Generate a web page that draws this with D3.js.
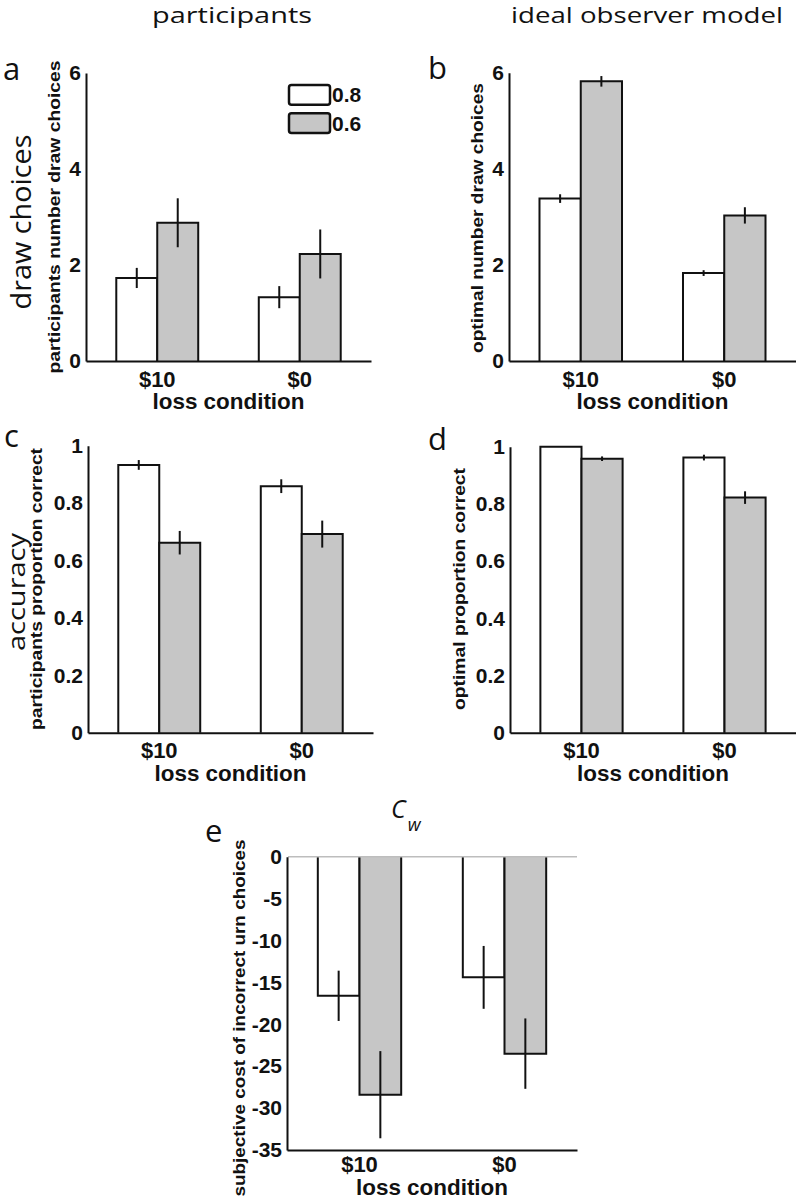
<!DOCTYPE html>
<html><head><meta charset="utf-8">
<script src="https://cdn.jsdelivr.net/npm/d3@7"></script>
<style>body{margin:0;background:#fff} svg{display:block}</style>
</head><body>
<script>
// ---------------- data ----------------
const categories = ["$10", "$0"];
const series = ["0.8", "0.6"];
const drawTicks = [0, 2, 4, 6];
const accTicks = [0, 0.2, 0.4, 0.6, 0.8, 1];
const cwTicks = [0, -5, -10, -15, -20, -25, -30, -35];

const partDraw08 = [1.73, 1.33];
const partDraw06 = [2.88, 2.23];
const partDrawErr08 = [0.21, 0.23];
const partDrawErr06 = [0.51, 0.51];

const modelDraw08 = [3.38, 1.83];
const modelDraw06 = [5.82, 3.03];
const modelDrawErr08 = [0.09, 0.06];
const modelDrawErr06 = [0.11, 0.17];

const partAcc08 = [0.933, 0.859];
const partAcc06 = [0.662, 0.692];
const partAccErr08 = [0.017, 0.024];
const partAccErr06 = [0.041, 0.047];

const modelAcc08 = [1.0, 0.962];
const modelAcc06 = [0.958, 0.822];
const modelAccErr08 = [0, 0.010];
const modelAccErr06 = [0.008, 0.022];

const cw08 = [-16.6, -14.4];
const cw06 = [-28.4, -23.5];
const cwErr08 = [3.0, 3.75];
const cwErr06 = [5.2, 4.2];

// ---------------- drawing ----------------
const W = 796, H = 1199;
const fills = {"0.8": "#ffffff", "0.6": "#c6c6c6"};
const boldFont = "'Liberation Sans', Arial, sans-serif";
const sansFont = "'Open Sans', 'Noto Sans', sans-serif";

const svg = d3.select("body").append("svg").attr("width", W).attr("height", H);

function rows(m08, m06, e08, e06) {
  const out = [];
  categories.forEach((c, i) => {
    out.push({cat: c, s: "0.8", v: m08[i], e: e08[i]});
    out.push({cat: c, s: "0.6", v: m06[i], e: e06[i]});
  });
  return out;
}

function panel(cfg) {
  const g = svg.append("g");
  const x0 = d3.scaleBand().domain(categories).range([cfg.left, cfg.right])
    .paddingInner(0.425).paddingOuter(0.2125);
  const x1 = d3.scaleBand().domain(series).range([0, x0.bandwidth()]);
  const y = d3.scaleLinear().domain(cfg.domain).range([cfg.bottom, cfg.top]);

  const data = cfg.data;
  g.selectAll("path.bar").data(data).join("path").attr("class", "bar")
    .attr("d", d => {
      const xa = x0(d.cat) + x1(d.s), xb = xa + x1.bandwidth();
      return `M${xa},${y(0)}V${y(d.v)}H${xb}V${y(0)}`;
    })
    .attr("fill", d => fills[d.s]).attr("stroke", "#111").attr("stroke-width", 2);

  if (cfg.zeroLine) {
    g.append("line").attr("x1", cfg.left + 1).attr("x2", cfg.right)
      .attr("y1", y(0)).attr("y2", y(0))
      .attr("stroke", "#bdbdbd").attr("stroke-width", 1.5);
  }

  g.selectAll("line.err").data(data.filter(d => d.e > 0)).join("line").attr("class", "err")
    .attr("x1", d => x0(d.cat) + x1(d.s) + x1.bandwidth() / 2)
    .attr("x2", d => x0(d.cat) + x1(d.s) + x1.bandwidth() / 2)
    .attr("y1", d => y(d.v - d.e)).attr("y2", d => y(d.v + d.e))
    .attr("stroke", "#111").attr("stroke-width", 2);

  // y axis
  const ya = g.append("g").attr("transform", `translate(${cfg.left},0)`)
    .call(d3.axisLeft(y).tickValues(cfg.ticks).tickSize(0).tickSizeOuter(0)
      .tickPadding(5).tickFormat(d => String(d)));
  ya.select(".domain").attr("stroke", "#111").attr("stroke-width", 2);
  ya.selectAll("text").attr("font-family", boldFont).attr("font-weight", "bold")
    .attr("font-size", 21).attr("fill", "#111");

  // x axis
  const xa = g.append("g").attr("transform", `translate(0,${cfg.bottom})`)
    .call(d3.axisBottom(x0).tickSize(0).tickSizeOuter(0).tickPadding(cfg.xPad));
  xa.select(".domain").attr("stroke", "#111").attr("stroke-width", 2);
  xa.selectAll("text").attr("font-family", boldFont).attr("font-weight", "bold")
    .attr("font-size", 22).attr("fill", "#111");

  // x label
  g.append("text").attr("x", (cfg.left + cfg.right) / 2).attr("y", cfg.bottom + cfg.xLabOff)
    .attr("text-anchor", "middle").attr("font-family", boldFont).attr("font-weight", "bold")
    .attr("font-size", 22).attr("fill", "#111")
    .attr("textLength", 152).attr("lengthAdjust", "spacingAndGlyphs")
    .text("loss condition");

  // y label (small bold)
  g.append("text").attr("transform", `translate(${cfg.yLabX},${cfg.yLabY}) rotate(-90)`)
    .attr("text-anchor", "middle").attr("font-family", boldFont).attr("font-weight", "bold")
    .attr("font-size", 16).attr("fill", "#111")
    .attr("textLength", cfg.yLabLen).attr("lengthAdjust", "spacingAndGlyphs")
    .text(cfg.yLab);

  // panel letter
  g.append("text").attr("x", cfg.letterX).attr("y", cfg.letterY)
    .attr("font-family", sansFont).attr("font-size", 31).attr("fill", "#111")
    .text(cfg.letter);
  return {x0, x1, y};
}

panel({left: 86, right: 371, top: 73, bottom: 361, domain: [0, 6], ticks: drawTicks,
  data: rows(partDraw08, partDraw06, partDrawErr08, partDrawErr06), xPad: 10, xLabOff: 48,
  yLab: "participants number draw choices", yLabX: 60, yLabY: 217, yLabLen: 313,
  letter: "a", letterX: 3, letterY: 80});
panel({left: 509, right: 796, top: 72.7, bottom: 361, domain: [0, 6], ticks: drawTicks,
  data: rows(modelDraw08, modelDraw06, modelDrawErr08, modelDrawErr06), xPad: 10, xLabOff: 48,
  yLab: "optimal number draw choices", yLabX: 483, yLabY: 218, yLabLen: 270,
  letter: "b", letterX: 428, letterY: 79});
panel({left: 88, right: 373, top: 445.7, bottom: 732.7, domain: [0, 1], ticks: accTicks,
  data: rows(partAcc08, partAcc06, partAccErr08, partAccErr06), xPad: 10, xLabOff: 48,
  yLab: "participants proportion correct", yLabX: 42, yLabY: 589, yLabLen: 282,
  letter: "c", letterX: 4, letterY: 447});
panel({left: 510, right: 796, top: 446.7, bottom: 732.7, domain: [0, 1], ticks: accTicks,
  data: rows(modelAcc08, modelAcc06, modelAccErr08, modelAccErr06), xPad: 10, xLabOff: 48,
  yLab: "optimal proportion correct", yLabX: 465, yLabY: 589, yLabLen: 242,
  letter: "d", letterX: 428, letterY: 450});
panel({left: 287, right: 577, top: 856.7, bottom: 1150, domain: [-35, 0], ticks: cwTicks,
  data: rows(cw08, cw06, cwErr08, cwErr06), xPad: 6, xLabOff: 45, zeroLine: true,
  yLab: "subjective cost of incorrect urn choices", yLabX: 245, yLabY: 1018, yLabLen: 357,
  letter: "e", letterX: 205, letterY: 842});

// column titles
svg.append("text").attr("x", 232).attr("y", 23).attr("text-anchor", "middle")
  .attr("font-family", sansFont).attr("font-size", 21).attr("fill", "#111")
  .attr("textLength", 160).attr("lengthAdjust", "spacingAndGlyphs").text("participants");
svg.append("text").attr("x", 647).attr("y", 23).attr("text-anchor", "middle")
  .attr("font-family", sansFont).attr("font-size", 21).attr("fill", "#111")
  .attr("textLength", 272).attr("lengthAdjust", "spacingAndGlyphs").text("ideal observer model");

// row labels
svg.append("text").attr("transform", "translate(31,222) rotate(-90)").attr("text-anchor", "middle")
  .attr("font-family", sansFont).attr("font-size", 28).attr("fill", "#111")
  .attr("textLength", 175).attr("lengthAdjust", "spacingAndGlyphs").text("draw choices");
svg.append("text").attr("transform", "translate(25,592) rotate(-90)").attr("text-anchor", "middle")
  .attr("font-family", sansFont).attr("font-size", 23).attr("fill", "#111")
  .attr("textLength", 118).attr("lengthAdjust", "spacingAndGlyphs").text("accuracy");

// C_w title
const cw = svg.append("text").attr("x", 391).attr("y", 818)
  .attr("font-family", sansFont).attr("font-style", "italic").attr("fill", "#111");
cw.append("tspan").attr("font-size", 25).text("C");
cw.append("tspan").attr("font-size", 18).attr("dy", 13).attr("dx", 2).text("w");

// legend
const legend = svg.append("g").attr("transform", "translate(289,85)");
const ly = d3.scaleBand().domain(series).range([0, 48]).paddingInner(0.3);
legend.selectAll("rect").data(series).join("rect")
  .attr("x", 0).attr("y", d => ly(d)).attr("width", 41).attr("height", ly.bandwidth())
  .attr("rx", 2.5).attr("fill", d => fills[d]).attr("stroke", "#111").attr("stroke-width", 2.5);
legend.selectAll("text").data(series).join("text")
  .attr("x", 43).attr("y", d => ly(d) + ly.bandwidth() / 2).attr("dy", "0.36em")
  .attr("font-family", boldFont).attr("font-weight", "bold").attr("font-size", 21).attr("fill", "#111")
  .text(d => d);
</script>
</body></html>
